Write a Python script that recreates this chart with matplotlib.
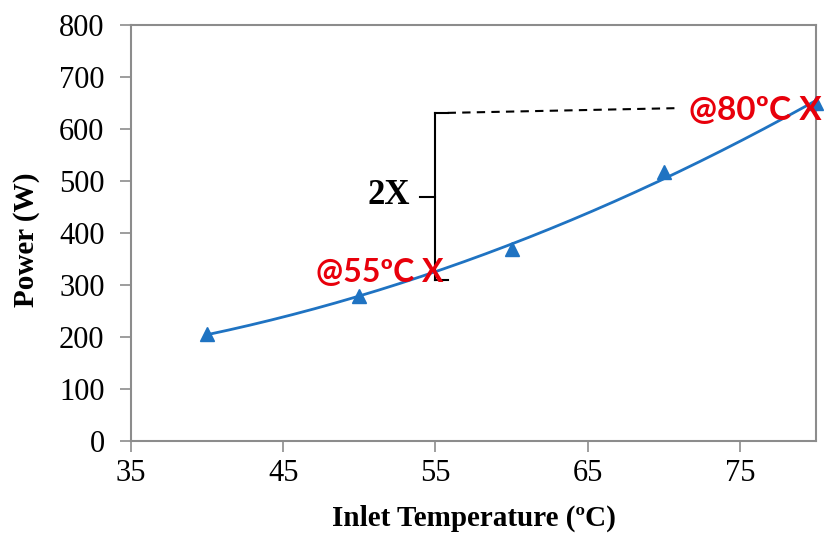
import numpy as np
import matplotlib
matplotlib.use("Agg")
import matplotlib.pyplot as plt

# -- Data
temps = [40, 50, 60, 70, 80]
power = [206, 279, 369, 517, 650]
x_ticks = [35, 45, 55, 65, 75]
y_ticks = [0, 100, 200, 300, 400, 500, 600, 700, 800]

blue = "#1F73C2"
red = "#E8000B"
grey = "#8C8C8C"
serif = "Liberation Serif"

W, H = 824, 533
fig = plt.figure(figsize=(W/100, H/100), dpi=100)
ax = fig.add_axes([131/W, 1-441/H, 685/W, 416/H])

# 2nd order trend line through the measured points
coef = np.polyfit(temps, power, 2)
xs = np.linspace(min(temps), max(temps), 200)
ax.plot(xs, np.polyval(coef, xs), color=blue, lw=2, zorder=3)
ax.plot(temps, power, ls="none", marker="^", ms=10, color=blue,
        clip_on=False, zorder=4)

ax.set_xlim(35, 80)
ax.set_ylim(0, 800)
ax.set_xticks(x_ticks)
ax.set_yticks(y_ticks)
for s in ax.spines.values():
    s.set_color(grey)
    s.set_linewidth(1.5)
ax.tick_params(direction="out", length=8, width=1.2, color=grey,
               labelsize=22, colors="black")
ax.tick_params(axis="x", pad=5)
ax.tick_params(axis="y", pad=11)
for lab in ax.get_xticklabels() + ax.get_yticklabels():
    lab.set_fontfamily(serif)

# axis titles placed by pixel position
fig.text(474/W, 1-518/H, "Inlet Temperature (ºC)", ha="center", va="center",
         fontfamily=serif, fontweight="bold", fontsize=21)
fig.text(27/W, 1-240/H, "Power (W)", ha="center", va="center", rotation=90,
         fontfamily=serif, fontweight="bold", fontsize=21)

# -- Bracket showing the 2X power increase
k = dict(color="black", lw=1.5, clip_on=False, zorder=5)
ax.plot([55, 55], [310, 631], **k)
ax.plot([55, 55.8], [631, 631], **k)
ax.plot([55, 55.8], [310, 310], **k)
ax.plot([54.0, 55], [469, 469], **k)
ax.plot([55.8, 70.7], [631, 640], color="black", lw=1.5, ls=(0, (4, 3)),
        zorder=5)
ax.text(53.3, 472, "2X", ha="right", va="center", fontfamily=serif,
        fontweight="bold", fontsize=25)

# -- Red labels
ax.text(55.5, 325, "@55ºC X", ha="right", va="center", color=red,
        fontfamily="Lato", fontweight="bold", fontsize=23, zorder=6)
ax.text(80.4, 636, "@80ºC X", ha="right", va="center", color=red,
        fontfamily="Lato", fontweight="bold", fontsize=24, zorder=6,
        clip_on=False)

plt.savefig("out.png", dpi=100)
